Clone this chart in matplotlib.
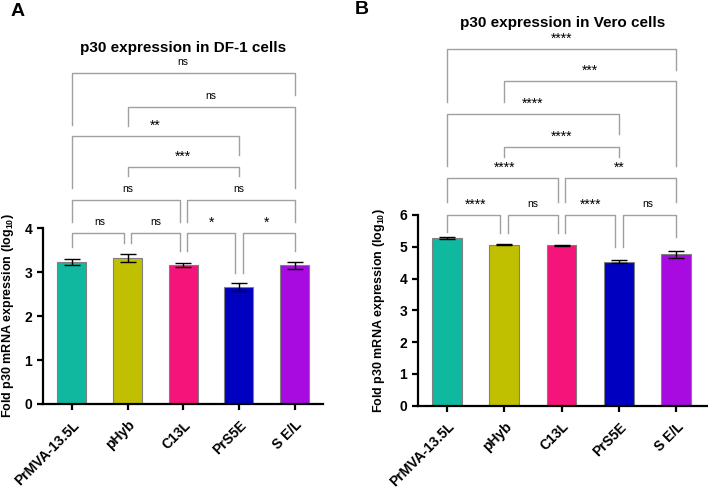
import numpy as np
import matplotlib.pyplot as plt
from matplotlib.transforms import blended_transform_factory

plt.rcParams['font.family'] = ['Liberation Sans', 'DejaVu Sans']
plt.rcParams['mathtext.fontset'] = 'custom'
plt.rcParams['mathtext.bf'] = 'Liberation Sans:bold'
plt.rcParams['mathtext.rm'] = 'Liberation Sans:bold'

groups = ['PrMVA-13.5L', 'pHyb', 'C13L', 'PrS5E', 'S E/L']
colors = ['#10B8A0', '#C0C000', '#F5157A', '#0000C0', '#A80BE0']

# DF-1 cells
df1_mean = [3.23, 3.31, 3.16, 2.66, 3.15]
df1_err = [0.06, 0.09, 0.05, 0.09, 0.08]
# Vero cells
vero_mean = [5.28, 5.07, 5.04, 4.53, 4.77]
vero_err = [0.03, 0.02, 0.03, 0.05, 0.11]

# comparisons: pair, label, level
pairs = [(0, 1), (1, 2), (2, 3), (3, 4), (0, 2), (2, 4), (1, 3), (0, 3), (1, 4), (0, 4)]
levels = [1, 1, 1, 1, 2, 2, 3, 4, 5, 6]
df1_labels = ['ns', 'ns', '*', '*', 'ns', 'ns', '***', '**', 'ns', 'ns']
vero_labels = ['****', 'ns', '****', 'ns', '****', '**', '****', '****', '***', '****']

# bracket heights and leg ends (data units)
df1_h = [3.89, 3.89, 3.89, 3.89, 4.64, 4.64, 5.39, 6.09, 6.75, 7.52]
df1_legs = [(3.57, 3.66), (3.66, 3.48), (3.48, 2.98), (2.98, 3.48), (4.14, 4.14),
            (4.14, 4.14), (5.19, 5.19), (4.91, 5.66), (6.32, 4.91), (6.34, 7.02)]
vero_h = [6.0, 6.0, 6.0, 6.0, 7.16, 7.16, 8.14, 9.17, 10.2, 11.22]
vero_legs = [(5.46, 5.43), (5.43, 5.43), (5.43, 4.99), (4.99, 5.30), (6.4, 6.4),
             (6.4, 6.4), (7.82, 7.82), (7.54, 8.55), (9.55, 7.54), (9.55, 10.56)]


def draw_panel(ax, means, errs, labels, heights, legs, ymax_axis, ylim_top, xlim, title, label_x):
    x = np.arange(len(groups))
    ax.bar(x, means, width=0.52, color=colors, edgecolor='#808080', linewidth=0.8, zorder=2)
    ax.errorbar(x, means, yerr=errs, fmt='none', ecolor='black', elinewidth=1,
                capsize=6, capthick=1, zorder=3)

    # significance brackets
    for k, (i, j) in enumerate(pairs):
        xl, xr = float(i), float(j)
        for m, (a, b) in enumerate(pairs):
            if m != k and levels[m] == levels[k]:
                if a == j:
                    xr -= 0.065
                if b == i:
                    xl += 0.065
        h = heights[k]
        lb, rb = legs[k]
        ax.plot([xl, xl, xr, xr], [lb, h, h, rb], color='#A0A0A0', lw=1.0,
                clip_on=False, zorder=1)
        star = labels[k] != 'ns'
        ax.annotate(labels[k], ((i + j) / 2, h), xytext=(0, 7.5 if star else 8),
                    textcoords='offset points', ha='center', va='center',
                    fontsize=10 if star else 7.5, color='black')

    ax.set_xlim(*xlim)
    ax.set_ylim(0, ylim_top)
    ax.set_yticks(range(0, ymax_axis + 1))
    ax.spines['left'].set_bounds(0, ymax_axis)
    for s in ['top', 'right']:
        ax.spines[s].set_visible(False)
    for s in ['left', 'bottom']:
        ax.spines[s].set_linewidth(1.6)
    ax.tick_params(axis='both', direction='out', length=4.3, width=1.6, labelsize=10)
    ax.tick_params(axis='x', pad=5.8)
    ax.set_xticks(x)
    ax.set_xticklabels(groups, rotation=45, ha='right', rotation_mode='anchor',
                       fontweight='bold')
    for t in ax.get_yticklabels():
        t.set_fontweight('bold')
    ax.set_ylabel(r'Fold p30 mRNA expression (log$_{\mathbf{10}}$)', fontsize=9,
                  fontweight='bold')
    ax.yaxis.set_label_coords(label_x, ymax_axis / 2,
                              transform=blended_transform_factory(ax.transAxes, ax.transData))
    ax.set_title(title, fontsize=11, fontweight='bold', pad=6)


fig = plt.figure(figsize=(7.08, 4.91), dpi=100)
ax1 = fig.add_axes([0.0607, 0.1772, 0.3955, 0.7006])
ax2 = fig.add_axes([0.5904, 0.1737, 0.4096, 0.7550])

draw_panel(ax1, df1_mean, df1_err, df1_labels, df1_h, df1_legs, 4, 7.82, (-0.52, 4.51),
           'p30 expression in DF-1 cells', -0.097)
draw_panel(ax2, vero_mean, vero_err, vero_labels, vero_h, vero_legs, 6, 11.66, (-0.5, 4.55),
           'p30 expression in Vero cells', -0.107)

fig.text(18 / 708, 1 - 12 / 491, 'A', fontsize=14, fontweight='bold', ha='center', va='center')
fig.text(362 / 708, 1 - 10 / 491, 'B', fontsize=14, fontweight='bold', ha='center', va='center')

fig.savefig('out.png', dpi=100)
